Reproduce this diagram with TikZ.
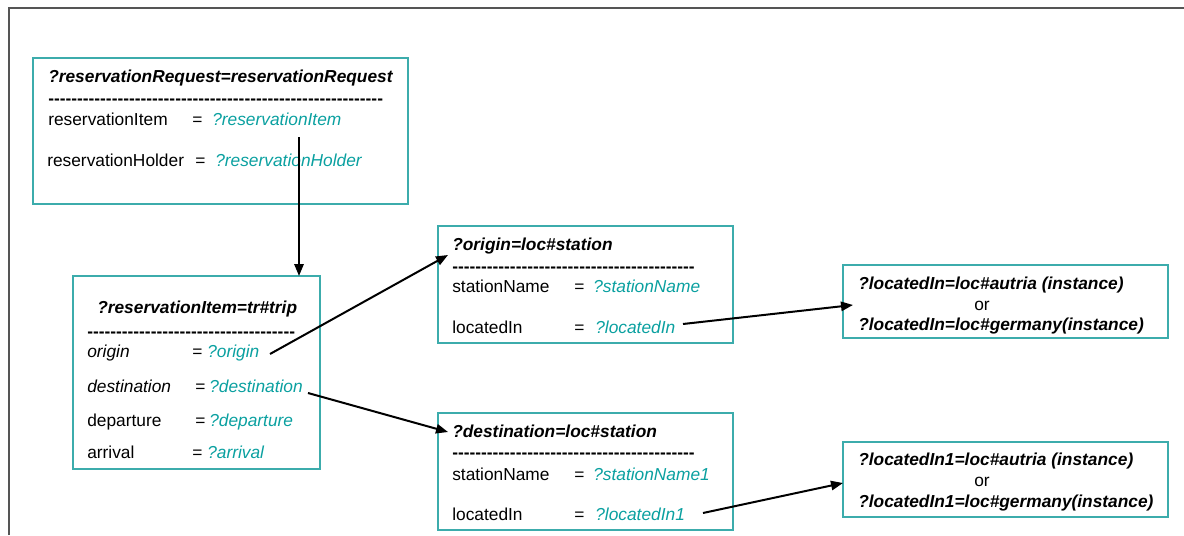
\documentclass[tikz,border=0pt]{standalone}
\usepackage{fontspec}
\setmainfont{Liberation Sans}
\usetikzlibrary{arrows.meta,fit}
\definecolor{tealtxt}{RGB}{10,160,160}
\definecolor{tealbox}{RGB}{60,172,172}
\definecolor{framec}{RGB}{85,85,85}
\newcommand{\fs}{\fontsize{13}{15}\selectfont}
\newcommand{\dashfill}[1]{\makebox[#1]{\leaders\hbox{-}\hfill}}
\tikzset{
  box/.style={draw=tealbox, line width=0.9pt, inner sep=0pt},
  txt/.style={anchor=base west, inner sep=0pt, font=\fs},
  ttl/.style={anchor=base west, inner sep=0pt, font=\fs\bfseries\itshape},
  lbl/.style={anchor=base west, inner sep=0pt, font=\fs\itshape},
  val/.style={anchor=base west, inner sep=0pt, font=\fs\itshape, text=tealtxt},
  dsh/.style={anchor=base west, inner sep=0pt, font=\fs\bfseries},
  conn/.style={draw=black, line width=1.5pt, -{Triangle[length=9pt,width=7pt]}}
}
\begin{document}
\begin{tikzpicture}[x=0.75pt,y=-0.75pt]
\useasboundingbox (0,0) rectangle (1184,535);
\draw[framec, line width=1.2pt] (9,535) -- (9,8) -- (1184,8);

% Box A
\node[box, fit={(33,58) (408,204)}] (A) {};
\node[ttl] (At) at (48,83) {?reservationRequest=reservationRequest};
\node[dsh] (Ad) at (48,104) {\dashfill{255pt}};
\node[txt] (Al1) at (48,125) {reservationItem};
\node[txt] (Ae1) at (192,125) {=};
\node[val] (Av1) at (212,125) {?reservationItem};
\node[txt] (Al2) at (47,166) {reservationHolder};
\node[txt] (Ae2) at (195,166) {=};
\node[val] (Av2) at (215,166) {?reservationHolder};

% Box B
\node[box, fit={(73,276) (320,469)}] (B) {};
\node[ttl] (Bt) at (97,313) {?reservationItem=tr\#trip};
\node[dsh] (Bd) at (87,337) {\dashfill{160pt}};
\node[lbl] (Bl1) at (87,357) {origin};
\node[txt] (Be1) at (192,357) {=};
\node[val] (Bv1) at (207,357) {?origin};
\node[lbl] (Bl2) at (87,392) {destination};
\node[txt] (Be2) at (195,392) {=};
\node[val] (Bv2) at (209,392) {?destination};
\node[txt] (Bl3) at (87,426) {departure};
\node[txt] (Be3) at (195,426) {=};
\node[val] (Bv3) at (209,426) {?departure};
\node[txt] (Bl4) at (87,458) {arrival};
\node[txt] (Be4) at (192,458) {=};
\node[val] (Bv4) at (207,458) {?arrival};

% Box C
\node[box, fit={(438,226) (733,343)}] (C) {};
\node[ttl] (Ct) at (452,250) {?origin=loc\#station};
\node[dsh] (Cd) at (452,272) {\dashfill{185pt}};
\node[txt] (Cl1) at (452,292) {stationName};
\node[txt] (Ce1) at (574,292) {=};
\node[val] (Cv1) at (593,292) {?stationName};
\node[txt] (Cl2) at (452,333) {locatedIn};
\node[txt] (Ce2) at (574,333) {=};
\node[val] (Cv2) at (595,333) {?locatedIn};

% Box D
\node[box, fit={(438,413) (733,530)}] (D) {};
\node[ttl] (Dt) at (452,437) {?destination=loc\#station};
\node[dsh] (Dd) at (452,458) {\dashfill{185pt}};
\node[txt] (Dl1) at (452,480) {stationName};
\node[txt] (De1) at (574,480) {=};
\node[val] (Dv1) at (593,480) {?stationName1};
\node[txt] (Dl2) at (452,520) {locatedIn};
\node[txt] (De2) at (574,520) {=};
\node[val] (Dv2) at (595,520) {?locatedIn1};

% Box E
\node[box, fit={(843,265) (1168,338)}] (E) {};
\node[ttl] (Et1) at (858,289) {?locatedIn=loc\#autria (instance)};
\node[txt, anchor=base] (Eor) at (982,310) {or};
\node[ttl] (Et2) at (858,330) {?locatedIn=loc\#germany(instance)};

% Box F
\node[box, fit={(843,442) (1168,517)}] (F) {};
\node[ttl] (Ft1) at (858,465) {?locatedIn1=loc\#autria (instance)};
\node[txt, anchor=base] (For) at (982,486) {or};
\node[ttl] (Ft2) at (858,507) {?locatedIn1=loc\#germany(instance)};

% connector ends
\coordinate (s1) at (299,137);
\coordinate (e1) at (299,276);
\coordinate (s2) at (270,354);
\coordinate (e2) at (448,255);
\coordinate (s3) at (308,393);
\coordinate (e3) at (448,432);
\coordinate (s4) at (683,324);
\coordinate (e4) at (853,305);
\coordinate (s5) at (703,513);
\coordinate (e5) at (843,483);

\draw[conn] (s1) -- (e1);
\draw[conn] (s2) -- (e2);
\draw[conn] (s3) -- (e3);
\draw[conn] (s4) -- (e4);
\draw[conn] (s5) -- (e5);
\end{tikzpicture}
\end{document}
